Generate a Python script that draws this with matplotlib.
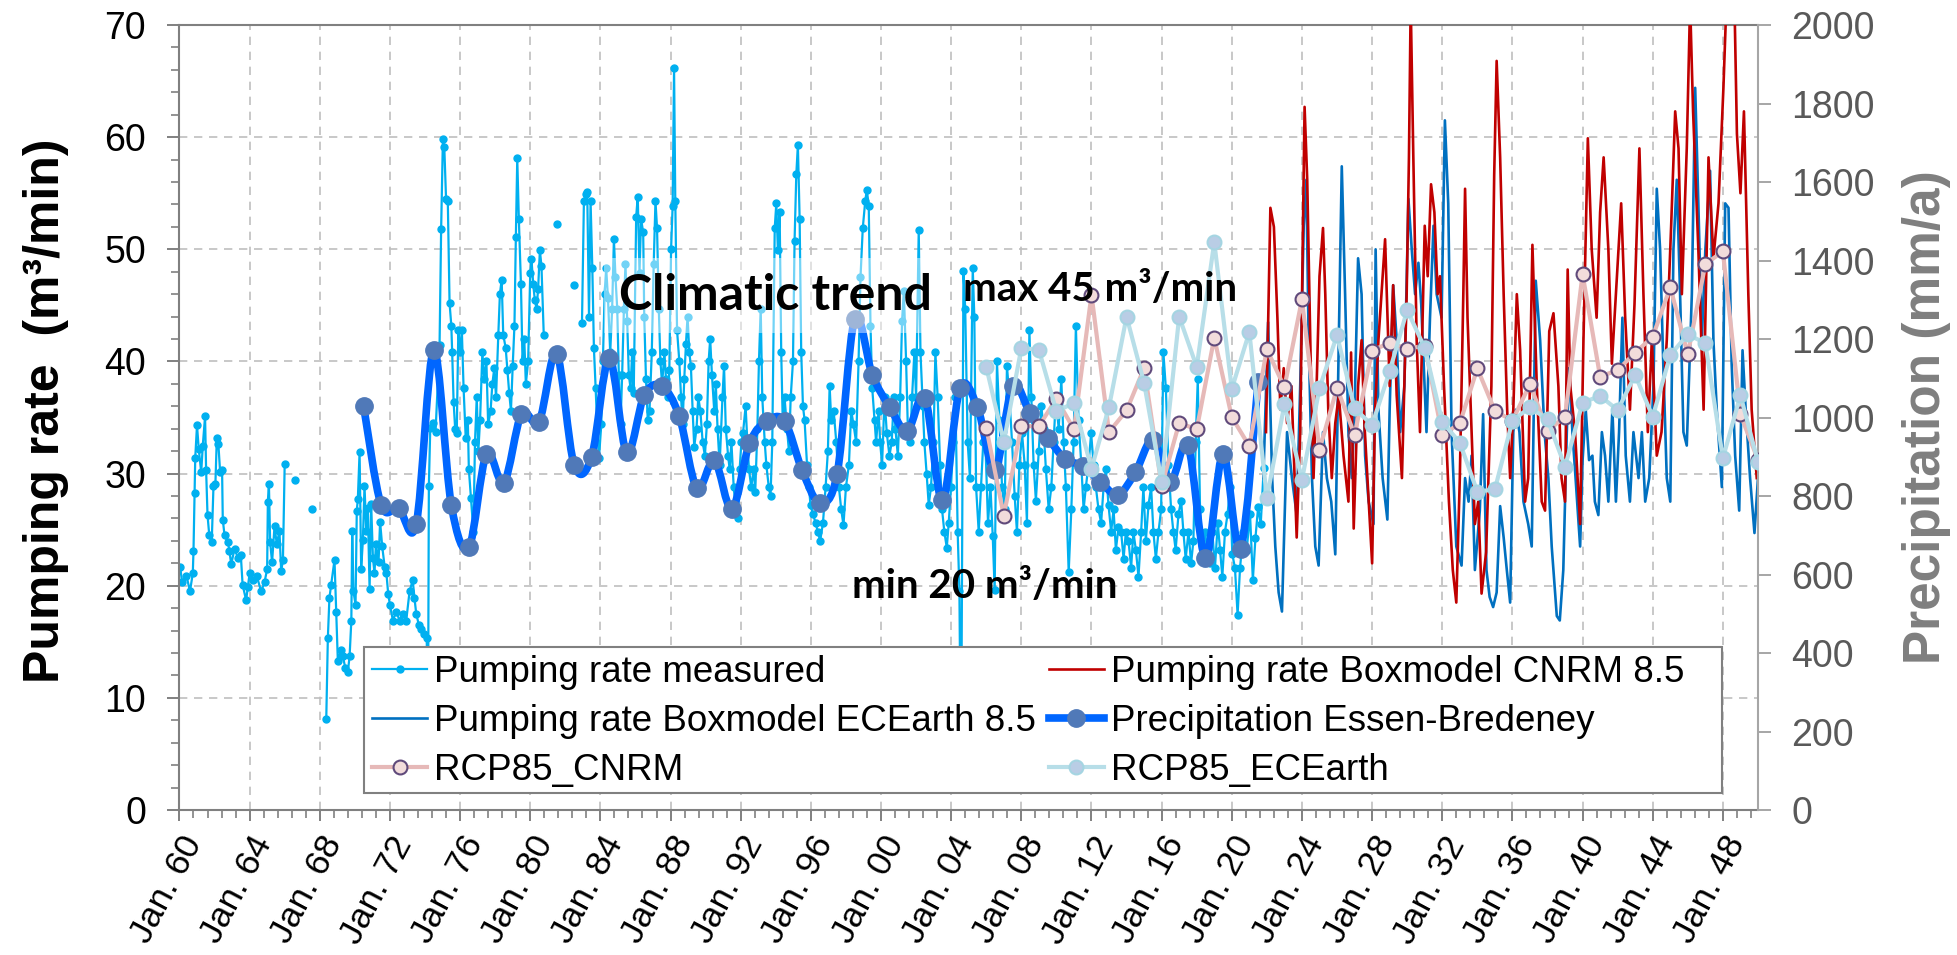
import numpy as np
import matplotlib
matplotlib.use("Agg")
import matplotlib.pyplot as plt
from matplotlib.path import Path
from matplotlib.patches import PathPatch, Rectangle
from matplotlib.lines import Line2D
from matplotlib.ticker import MultipleLocator, FixedLocator

plt.rcParams['font.family'] = ['Liberation Sans', 'DejaVu Sans']

nan = np.nan

# --- pumping rate measured (m3/min), decimal year ---
meas_year = [
    1960.04, 1960.15, 1960.4, 1960.6, 1960.76, 1960.8, 1960.86, 1960.9, 1961.0, 1961.1,
    1961.24, 1961.33, 1961.46, 1961.52, 1961.6, 1961.7, 1961.84, 1961.94, 1962.05, 1962.13,
    1962.22, 1962.32, 1962.43, 1962.47, 1962.57, 1962.76, 1962.85, 1962.95, 1963.14, 1963.33,
    1963.5, 1963.6, 1963.8, 1963.9, 1964.0, 1964.18, 1964.4, 1964.66, 1964.85, 1965.0,
    1965.04, 1965.1, 1965.17, 1965.28, 1965.42, 1965.55, 1965.7, 1965.8, 1965.9, 1966.0,
    1966.3, 1966.56, 1967.0, 1967.57, 1968.0,
    1968.37, 1968.46, 1968.55, 1968.65, 1968.84, 1968.94, 1969.03, 1969.22, 1969.32, 1969.45,
    1969.6, 1969.7, 1969.8, 1969.85, 1969.92, 1970.04, 1970.11, 1970.17, 1970.27, 1970.36,
    1970.46, 1970.55, 1970.65, 1970.74, 1970.84, 1970.93, 1971.03, 1971.12, 1971.2, 1971.35,
    1971.44, 1971.56, 1971.7, 1971.8, 1971.9, 1972.0, 1972.17, 1972.36, 1972.55, 1972.74,
    1972.93, 1973.12, 1973.3, 1973.4, 1973.5, 1973.65, 1973.78, 1973.97, 1974.1, 1974.16,
    1974.22, 1974.3, 1974.45, 1974.6, 1974.83, 1974.92, 1975.02, 1975.1, 1975.2, 1975.3,
    1975.4, 1975.5, 1975.55, 1975.63, 1975.72, 1975.81, 1975.9, 1976.0, 1976.1, 1976.2,
    1976.32, 1976.44, 1976.5, 1976.62, 1976.76, 1976.85, 1976.95, 1977.04, 1977.14, 1977.27,
    1977.38, 1977.5, 1977.6, 1977.74, 1977.84, 1977.95, 1978.05, 1978.18, 1978.27, 1978.37,
    1978.46, 1978.6, 1978.7, 1978.8, 1978.9, 1979.0, 1979.1, 1979.18, 1979.26, 1979.35,
    1979.47, 1979.56, 1979.66, 1979.75, 1979.88, 1980.0, 1980.07, 1980.17, 1980.26, 1980.36,
    1980.45, 1980.55, 1980.64, 1980.77,
    1981.1, 1981.51, 1982.0, 1982.5, 1982.8,
    1982.95, 1983.06, 1983.16, 1983.25, 1983.35, 1983.44, 1983.54, 1983.63, 1983.73, 1983.82,
    1983.92, 1984.05, 1984.14, 1984.24, 1984.33, 1984.43, 1984.56, 1984.67, 1984.77, 1984.86,
    1984.96, 1985.05, 1985.15, 1985.24, 1985.34, 1985.43, 1985.53, 1985.62, 1985.72, 1985.81,
    1985.9, 1986.04, 1986.13, 1986.23, 1986.32, 1986.44, 1986.5, 1986.6, 1986.7, 1986.8,
    1986.93, 1987.04, 1987.14, 1987.23, 1987.33, 1987.42, 1987.52, 1987.65, 1987.74, 1987.84,
    1987.93, 1988.03, 1988.12, 1988.2, 1988.27, 1988.37, 1988.5, 1988.6, 1988.69, 1988.78,
    1988.88, 1988.97, 1989.07, 1989.16, 1989.26, 1989.35, 1989.48, 1989.58, 1989.7, 1989.83,
    1989.96, 1990.07, 1990.17, 1990.26, 1990.36, 1990.49, 1990.58, 1990.68, 1990.8, 1990.96,
    1991.05, 1991.15, 1991.28, 1991.37, 1991.47, 1991.6, 1991.72, 1991.85, 1991.94, 1992.04,
    1992.13, 1992.28, 1992.38, 1992.47, 1992.6, 1992.74, 1992.83, 1992.95, 1993.04, 1993.14,
    1993.23, 1993.37, 1993.46, 1993.6, 1993.7, 1993.8, 1993.94, 1994.03, 1994.12, 1994.22,
    1994.31, 1994.4, 1994.5, 1994.64, 1994.75, 1994.85, 1994.98, 1995.07, 1995.17, 1995.26,
    1995.36, 1995.45, 1995.55, 1995.64, 1995.78, 1995.89, 1995.98, 1996.12, 1996.27, 1996.4,
    1996.53, 1996.69, 1996.84, 1996.97, 1997.07, 1997.16, 1997.3, 1997.45, 1997.6, 1997.73,
    1997.86, 1998.0, 1998.17, 1998.3, 1998.43, 1998.58, 1998.72, 1998.83, 1998.96, 1999.1,
    1999.19, 1999.3, 1999.4, 1999.5, 1999.63, 1999.72, 1999.86, 1999.95, 2000.06, 2000.2,
    2000.33, 2000.48, 2000.61, 2000.73, 2000.82, 2000.96, 2001.09, 2001.2, 2001.3, 2001.43,
    2001.53, 2001.66, 2001.77, 2001.9, 2002.0, 2002.15, 2002.25, 2002.38, 2002.47, 2002.6,
    2002.72, 2002.85, 2002.99, 2003.1, 2003.23, 2003.37, 2003.48, 2003.61, 2003.75, 2003.86,
    2003.99, 2004.12, 2004.24, 2004.37, 2004.47, 2004.56, 2004.7, 2004.8, 2004.94, 2005.07,
    2005.23, 2005.32, 2005.42, 2005.57, 2005.7, 2005.83, 2005.95, 2006.1, 2006.24, 2006.37,
    2006.48, 2006.61, 2006.75, 2006.9, 2007.05, 2007.18, 2007.32, 2007.47, 2007.62, 2007.75,
    2007.89, 2008.04, 2008.19, 2008.32, 2008.46, 2008.57, 2008.7, 2008.83, 2008.99, 2009.14,
    2009.27, 2009.4, 2009.56, 2009.71, 2009.84, 2009.97, 2010.13, 2010.28, 2010.41, 2010.54,
    2010.7, 2010.85, 2010.98, 2011.11, 2011.26, 2011.42, 2011.55, 2011.68, 2011.83, 2011.98,
    2012.12, 2012.25, 2012.4, 2012.55, 2012.69, 2012.82, 2012.97, 2013.12, 2013.26, 2013.39,
    2013.54, 2013.69, 2013.83, 2013.96, 2014.11, 2014.26, 2014.39, 2014.53, 2014.68, 2014.83,
    2014.96, 2015.1, 2015.25, 2015.4, 2015.53, 2015.67, 2015.82, 2015.97, 2016.1, 2016.24,
    2016.39, 2016.54, 2016.67, 2016.8, 2016.96, 2017.11, 2017.24, 2017.37, 2017.53, 2017.68,
    2017.81, 2017.94, 2018.06, 2018.19, 2018.32, 2018.47, 2018.63, 2018.76, 2018.89, 2019.04,
    2019.2, 2019.33, 2019.46, 2019.61, 2019.76, 2019.9, 2020.03, 2020.18, 2020.33, 2020.47,
    2020.66, 2020.85, 2021.04, 2021.2, 2021.35, 2021.5, 2021.65, 2021.82,
]
meas_rate = [
    21.7, 20.3, 20.9, 19.5, 21.1, 23.1, 28.3, 31.4, 34.3, 32.2,
    30.1, 32.5, 35.1, 30.3, 26.3, 24.5, 23.9, 28.9, 29.1, 33.2,
    32.6, 30.1, 30.3, 25.9, 24.5, 23.9, 23.1, 21.9, 23.3, 22.5,
    22.7, 20.1, 18.7, 19.9, 21.1, 20.5, 20.9, 19.5, 20.3, 21.5,
    27.5, 29.1, 23.9, 22.1, 25.3, 23.7, 24.9, 21.3, 22.3, 30.9,
    nan, 29.4, nan, 26.8, nan,
    8.1, 15.3, 18.9, 20.1, 22.3, 17.7, 13.3, 14.3, 13.7, 12.7,
    12.3, 13.7, 16.9, 24.9, 19.5, 18.3, 26.7, 27.7, 31.9, 21.5,
    24.1, 28.9, 24.9, 26.9, 19.7, 27.3, 22.5, 21.1, 23.7, 22.1,
    25.7, 23.5, 21.7, 21.1, 19.3, 18.3, 16.9, 17.7, 16.9, 17.5,
    16.9, 19.5, 20.5, 18.9, 17.5, 16.5, 16.1, 15.7, 15.3, 2.0,
    28.9, 34.1, 34.5, 33.7, 41.5, 51.8, 59.8, 59.1, 54.5, 54.3,
    45.2, 43.2, 40.8, 36.4, 34.0, 33.6, 42.8, 40.8, 42.8, 37.6,
    33.2, 34.8, 30.4, 27.8, 24.8, 32.8, 36.8, 32.0, 34.8, 40.8,
    38.4, 40.0, 34.4, 35.6, 38.0, 39.4, 36.8, 42.4, 46.0, 47.3,
    42.4, 41.2, 39.2, 37.2, 35.6, 39.6, 43.2, 51.1, 58.1, 52.7,
    46.9, 40.0, 42.0, 38.0, 40.0, 47.9, 49.1, 46.9, 45.5, 44.7,
    46.5, 49.9, 48.5, 42.4,
    nan, 52.3, nan, 46.8, nan,
    43.4, 54.3, 54.9, 55.1, 44.0, 54.3, 48.3, 41.2, 37.6, 34.0,
    31.4, 34.4, 40.0, 46.0, 48.3, 45.7, 40.8, 44.7, 50.9, 47.5,
    44.7, 38.8, 34.4, 38.8, 44.7, 48.7, 43.6, 38.8, 37.6, 40.8,
    37.2, 52.9, 54.7, 47.9, 52.7, 51.5, 44.0, 38.4, 34.8, 35.6,
    40.8, 48.7, 54.3, 51.9, 44.7, 40.0, 38.0, 40.8, 38.4, 36.8,
    39.2, 50.0, 53.9, 66.2, 54.3, 42.8, 40.0, 36.8, 34.4, 38.4,
    41.6, 44.0, 40.8, 39.6, 35.6, 32.4, 34.0, 36.8, 35.6, 32.8,
    31.6, 34.4, 40.0, 42.0, 38.8, 35.6, 38.0, 34.0, 30.8, 36.8,
    39.6, 34.0, 31.6, 30.4, 32.8, 28.8, 26.8, 26.0, 30.4, 32.8,
    33.6, 36.0, 32.8, 30.4, 28.8, 30.4, 28.4, 34.0, 40.0, 44.7,
    36.8, 32.8, 30.8, 28.8, 28.0, 32.8, 51.9, 54.1, 49.9, 53.3,
    40.8, 34.4, 36.8, 34.0, 32.0, 36.8, 40.0, 50.7, 56.7, 59.3,
    52.7, 40.8, 36.0, 34.8, 30.8, 28.8, 27.2, 26.4, 25.6, 24.8,
    24.0, 25.6, 28.8, 32.0, 37.8, 34.8, 35.6, 32.8, 28.8, 26.8,
    25.4, 28.8, 30.8, 35.6, 34.4, 32.8, 40.0, 47.5, 51.9, 54.3,
    55.3, 53.9, 43.2, 37.6, 34.8, 32.8, 35.6, 32.8, 30.8, 36.8,
    33.6, 31.6, 32.8, 36.8, 34.0, 31.6, 36.8, 43.6, 46.3, 40.0,
    34.0, 32.8, 36.8, 40.8, 36.8, 51.7, 40.8, 36.0, 32.8, 30.0,
    27.2, 28.8, 32.8, 40.8, 36.8, 30.8, 26.8, 24.8, 23.4, 25.6,
    28.8, 32.8, 36.8, 24.8, 19.5, 2.0, 48.1, 44.7, 32.8, 29.6,
    48.3, 44.0, 28.8, 24.8, 28.8, 32.8, 32.8, 25.6, 28.8, 24.4,
    19.6, 40.0, 34.8, 28.8, 26.8, 39.6, 36.8, 32.8, 28.0, 24.8,
    30.8, 33.6, 30.8, 25.6, 42.8, 36.8, 30.8, 27.6, 32.0, 36.0,
    34.0, 30.4, 26.8, 28.8, 32.8, 36.8, 34.0, 38.4, 32.8, 28.8,
    21.2, 26.8, 32.8, 43.2, 34.8, 30.8, 26.8, 28.8, 30.8, 33.6,
    30.8, 28.8, 26.8, 25.6, 28.8, 30.4, 27.2, 24.8, 26.8, 23.2,
    25.2, 24.8, 22.4, 24.8, 24.0, 21.6, 24.8, 23.2, 20.8, 24.8,
    28.8, 24.0, 27.2, 28.8, 24.8, 22.4, 24.8, 26.8, 40.8, 37.6,
    30.8, 26.8, 24.8, 23.2, 26.4, 27.6, 24.8, 22.4, 24.8, 22.0,
    24.0, 32.8, 38.4, 26.8, 23.6, 24.8, 22.8, 22.0, 24.8, 21.6,
    25.6, 23.2, 20.8, 24.8, 26.4, 28.8, 22.8, 21.6, 17.4, 21.6,
    24.8, 23.2, 26.4, 20.5, 24.3, 27.0, 25.5, 30.5,
]

# --- pumping rate boxmodel CNRM 8.5 (m3/min) ---
cnrm_year = [
    2021.95, 2022.2, 2022.4, 2022.6, 2022.77, 2022.96, 2023.15, 2023.4, 2023.7, 2023.9,
    2024.15, 2024.3, 2024.5, 2024.66, 2024.85, 2025.0, 2025.2, 2025.33, 2025.5, 2025.7,
    2025.9, 2026.1, 2026.37, 2026.65, 2026.8, 2026.95, 2027.2, 2027.4, 2027.56, 2028.0,
    2028.17, 2028.36, 2028.74, 2029.0, 2029.2, 2029.4, 2029.7, 2029.97, 2030.1, 2030.2,
    2030.35, 2030.54, 2030.73, 2031.0, 2031.17, 2031.36, 2031.55, 2031.74, 2031.87, 2032.1,
    2032.38, 2032.6, 2032.8, 2033.0, 2033.2, 2033.3, 2033.44, 2033.67, 2033.86, 2034.05,
    2034.24, 2034.5, 2034.8, 2034.96, 2035.1, 2035.3, 2035.5, 2035.7, 2035.87, 2036.05,
    2036.25, 2036.44, 2036.72, 2036.9, 2037.14, 2037.39, 2037.67, 2037.86, 2038.1, 2038.34,
    2038.62, 2038.8, 2039.0, 2039.15, 2039.3, 2039.57, 2039.86, 2040.05, 2040.3, 2040.52,
    2040.8, 2041.0, 2041.2, 2041.47, 2041.67, 2041.9, 2042.2, 2042.43, 2042.7, 2042.96,
    2043.24, 2043.47, 2043.72, 2043.95, 2044.23, 2044.5, 2044.8, 2045.05, 2045.28, 2045.47,
    2045.66, 2045.94, 2046.13, 2046.3, 2046.6, 2046.9, 2047.18, 2047.46, 2047.75, 2048.03,
    2048.2, 2048.66, 2048.8, 2049.0, 2049.2, 2049.45, 2049.64, 2049.93,
]
cnrm_rate = [
    33.7, 53.7, 52.0, 43.9, 35.7, 39.4, 34.5, 37.8, 24.3, 33.7,
    62.7, 56.2, 39.8, 29.6, 38.6, 47.6, 51.9, 46.0, 35.7, 29.6,
    34.5, 37.0, 31.6, 27.5, 40.8, 25.1, 37.8, 41.9, 34.5, 22.0,
    35.7, 41.9, 50.9, 37.8, 46.8, 37.0, 29.6, 46.0, 58.2, 72.0,
    58.2, 41.9, 33.7, 52.1, 47.6, 55.8, 53.3, 46.0, 47.6, 37.8,
    27.5, 21.4, 18.5, 29.6, 46.0, 55.4, 43.9, 33.7, 25.5, 27.5,
    19.3, 23.0, 37.8, 56.6, 66.8, 58.2, 46.0, 35.7, 29.6, 35.7,
    46.0, 41.0, 27.5, 29.6, 50.4, 37.8, 27.5, 26.7, 42.7, 44.3,
    37.8, 29.6, 27.5, 48.2, 37.8, 33.7, 25.5, 41.9, 59.9, 50.0,
    43.9, 53.3, 58.2, 50.0, 39.8, 46.0, 54.1, 43.9, 35.7, 45.1,
    59.0, 46.0, 33.7, 41.9, 31.6, 33.7, 41.9, 52.1, 62.3, 59.0,
    46.0, 59.0, 72.0, 62.3, 50.0, 35.7, 58.2, 49.2, 54.1, 64.4,
    72.0, 72.0, 60.3, 55.0, 62.3, 46.0, 35.7, 29.6,
]

# --- pumping rate boxmodel ECEarth 8.5 (m3/min) ---
ecearth_year = [
    2021.8, 2022.07, 2022.3, 2022.48, 2022.67, 2022.86, 2023.0, 2023.15, 2023.43, 2023.7,
    2023.9, 2024.1, 2024.25, 2024.38, 2024.57, 2024.76, 2024.95, 2025.2, 2025.42, 2025.67,
    2025.9, 2026.1, 2026.27, 2026.46, 2026.65, 2026.84, 2027.0, 2027.2, 2027.4, 2027.6,
    2027.8, 2028.08, 2028.2, 2028.36, 2028.6, 2028.87, 2029.0, 2029.2, 2029.4, 2029.6,
    2029.84, 2030.07, 2030.26, 2030.45, 2030.64, 2030.8, 2031.1, 2031.3, 2031.5, 2031.68,
    2031.96, 2032.15, 2032.34, 2032.53, 2032.8, 2033.1, 2033.3, 2033.5, 2033.67, 2033.86,
    2034.14, 2034.33, 2034.52, 2034.7, 2034.9, 2035.1, 2035.3, 2035.5, 2035.68, 2035.87,
    2036.05, 2036.2, 2036.4, 2036.63, 2036.9, 2037.1, 2037.33, 2037.58, 2037.83, 2038.05,
    2038.24, 2038.53, 2038.7, 2038.9, 2039.1, 2039.23, 2039.42, 2039.6, 2039.86, 2040.0,
    2040.18, 2040.37, 2040.56, 2040.7, 2040.9, 2041.1, 2041.28, 2041.47, 2041.7, 2041.9,
    2042.08, 2042.27, 2042.46, 2042.7, 2042.9, 2043.19, 2043.38, 2043.57, 2043.8, 2044.04,
    2044.23, 2044.42, 2044.6, 2044.8, 2045.0, 2045.18, 2045.37, 2045.56, 2045.75, 2045.94,
    2046.23, 2046.42, 2046.6, 2046.8, 2047.0, 2047.27, 2047.46, 2047.65, 2047.94, 2048.13,
    2048.32, 2048.5, 2048.7, 2048.93, 2049.12, 2049.3, 2049.55, 2049.8, 2050.0,
]
ecearth_rate = [
    29.6, 43.5, 29.6, 23.5, 19.4, 17.7, 25.5, 33.7, 29.6, 26.3,
    37.8, 52.1, 56.2, 41.9, 29.6, 23.5, 21.8, 33.7, 29.6, 27.5,
    22.8, 41.9, 57.4, 46.0, 33.7, 29.6, 35.7, 49.2, 46.0, 31.6,
    27.5, 25.5, 50.0, 35.7, 29.6, 25.9, 35.7, 46.8, 41.9, 33.7,
    37.8, 54.5, 50.0, 46.0, 48.8, 45.1, 33.7, 43.9, 52.1, 46.0,
    43.9, 61.5, 54.1, 33.7, 23.5, 21.8, 29.6, 27.5, 31.6, 21.4,
    26.7, 35.3, 21.4, 19.0, 18.1, 19.4, 27.1, 24.3, 21.4, 18.5,
    33.7, 35.7, 33.7, 27.5, 25.5, 23.5, 47.2, 41.9, 33.7, 29.6,
    23.5, 17.3, 16.9, 21.4, 33.7, 39.4, 33.7, 29.6, 23.5, 31.2,
    35.7, 31.2, 31.6, 27.5, 26.3, 33.7, 31.6, 27.5, 35.7, 27.5,
    33.7, 43.9, 31.6, 27.5, 33.7, 29.6, 33.7, 27.5, 29.6, 37.8,
    55.4, 50.0, 39.8, 29.6, 27.5, 50.0, 56.2, 46.0, 33.7, 32.5,
    46.0, 64.4, 54.1, 41.9, 50.0, 57.0, 41.9, 35.7, 28.8, 54.1,
    53.7, 39.8, 31.6, 26.7, 41.0, 35.7, 29.6, 24.7, 29.6,
]

# --- precipitation Essen-Bredeney (mm/a), one value per year ---
precip_years = list(range(1970, 2022))
precip_mm = [
    1029, 777, 769, 729, 1171, 777, 669, 906, 834, 1009,
    989, 1163, 880, 900, 1151, 911, 1057, 1080, 1003, 820,
    891, 766, 934, 991, 991, 866, 783, 857, 1251, 1109,
    1026, 966, 1051, 789, 1074, 1026, 866, 1080, 1011, 949,
    894, 877, 837, 803, 860, 943, 837, 929, 643, 906,
    666, 1091,
]

# --- RCP 8.5 precipitation scenarios (mm/a) ---
rcp_years = list(range(2006, 2051))
rcp_cnrm = [
    974, 750, 978, 978, 1048, 970, 1313, 963, 1018, 1126,
    825, 986, 970, 1203, 1001, 927, 1174, 1077, 1301, 918,
    1075, 956, 1170, 1191, 1175, 1183, 955, 985, 1125, 1017,
    992, 1085, 966, 1002, 1365, 1104, 1121, 1165, 1206, 1332,
    1161, 1391, 1423, 1008, 892,
]
rcp_ecearth = [
    1129, 938, 1177, 1173, 1016, 1037, 870, 1027, 1257, 1088,
    836, 1257, 1129, 1447, 1073, 1218, 794, 1034, 841, 1075,
    1210, 1023, 981, 1118, 1274, 1177, 989, 936, 811, 817,
    992, 1026, 995, 875, 1038, 1055, 1019, 1108, 1002, 1159,
    1212, 1189, 896, 1057, 887,
]

major_years = list(range(1960, 2049, 4))
major_labels = ["Jan. %02d" % (y % 100) for y in major_years]


def smooth_path(x, y):
    # Bezier path through the points, like Excel's "smoothed line"
    verts = [(x[0], y[0])]
    codes = [Path.MOVETO]
    n = len(x)
    for i in range(n - 1):
        xa, ya = (x[i - 1], y[i - 1]) if i > 0 else (x[i], y[i])
        xd, yd = (x[i + 2], y[i + 2]) if i + 2 < n else (x[i + 1], y[i + 1])
        c1 = (x[i] + (x[i + 1] - xa) / 6.0, y[i] + (y[i + 1] - ya) / 6.0)
        c2 = (x[i + 1] - (xd - x[i]) / 6.0, y[i + 1] - (yd - y[i]) / 6.0)
        verts += [c1, c2, (x[i + 1], y[i + 1])]
        codes += [Path.CURVE4] * 3
    return Path(verts, codes)


fig = plt.figure(figsize=(19.57, 9.55), dpi=100)
ax = fig.add_axes([0.0917, 0.1518, 0.8066, 0.8220])
ax2 = ax.twinx()

c_meas = '#00B0F0'
c_ece = '#0070C0'
c_cnrm = '#C00000'
c_prec = '#0066FF'
c_prec_mk = '#5079B8'

l_meas, = ax.plot(meas_year, meas_rate, color=c_meas, lw=1.6, marker='o', ms=5,
                  mec=c_meas, zorder=2, label='Pumping rate measured')
l_ece, = ax.plot(ecearth_year, ecearth_rate, color=c_ece, lw=1.9, zorder=3,
                 label='Pumping rate Boxmodel ECEarth 8.5')
l_cnrm, = ax.plot(cnrm_year, cnrm_rate, color=c_cnrm, lw=1.9, zorder=3,
                  label='Pumping rate Boxmodel CNRM 8.5')

px = [y + 0.5 for y in precip_years]
ax2.add_patch(PathPatch(smooth_path(px, precip_mm), fill=False, edgecolor=c_prec,
                        lw=5.5, capstyle='round', joinstyle='round', zorder=2))
ax2.plot(px, precip_mm, linestyle='none', marker='o', ms=12.5, mfc=c_prec_mk,
         mec=c_prec_mk, zorder=3)
l_prec = Line2D([], [], color=c_prec, lw=5.5, marker='o', ms=12.5, mfc=c_prec_mk,
                mec=c_prec_mk, label='Precipitation Essen-Bredeney')

l_rc, = ax2.plot(rcp_years, rcp_cnrm, color='#E6B9B8', lw=3, marker='o', ms=10,
                 mfc='#F2DCDB', mec='#604A7B', mew=1.5, zorder=4, label='RCP85_CNRM')
l_re, = ax2.plot(rcp_years, rcp_ecearth, color='#B7DEE8', lw=3, marker='o', ms=10,
                 mfc='#B9CDE5', mec='#A5D5E2', mew=1.5, zorder=5, label='RCP85_ECEarth')

# axes
ax.set_xlim(1960, 2050)
ax.set_ylim(0, 70)
ax2.set_ylim(0, 2000)
ax.xaxis.set_major_locator(FixedLocator(major_years))
ax.set_xticklabels(major_labels)
ax.xaxis.set_minor_locator(FixedLocator(np.arange(1960, 2050.01, 0.8)))
ax.yaxis.set_major_locator(MultipleLocator(10))
ax.yaxis.set_minor_locator(MultipleLocator(2))
ax2.yaxis.set_major_locator(MultipleLocator(200))

ax.grid(True, which='major', color='#BFBFBF', linestyle=(0, (5, 4)), lw=1.2)
ax.set_axisbelow(True)

for s in ['left', 'bottom', 'top']:
    ax.spines[s].set_color('#808080')
    ax.spines[s].set_linewidth(1.5)
ax.spines['right'].set_visible(False)
for s in ['left', 'bottom', 'top']:
    ax2.spines[s].set_visible(False)
ax2.spines['right'].set_color('#A6A6A6')
ax2.spines['right'].set_linewidth(1.5)

ax.tick_params(axis='y', which='major', length=9, width=1.4, color='#808080',
               labelsize=27, pad=15)
ax.tick_params(axis='y', which='minor', length=6, width=1.2, color='#808080')
ax.tick_params(axis='x', which='major', length=8, width=1.4, color='#808080',
               labelsize=25.5, pad=7)
ax.tick_params(axis='x', which='minor', length=5.5, width=1.2, color='#808080')
ax2.tick_params(axis='y', length=9, width=1.4, color='#A6A6A6', labelcolor='#595959',
                labelsize=27, pad=15)

for lab in ax.get_xticklabels():
    lab.set_rotation(62)
    lab.set_ha('right')
    lab.set_va('top')
    lab.set_rotation_mode('anchor')

ax.set_ylabel('Pumping rate  (m³/min)', fontsize=36, fontweight='bold')
ax.yaxis.set_label_coords(-0.070, 0.508)
ax2.set_ylabel('Precipitation (mm/a)', fontsize=37, fontweight='bold', color='#7F7F7F',
               rotation=90)
ax2.yaxis.set_label_coords(1.091, 0.50)

# annotations
tr = ax.transData
ax2.text(1994.0, 45.9, 'Climatic trend', transform=tr, ha='center', va='center',
         fontsize=36, fontweight='bold', family=['Lato', 'DejaVu Sans'], zorder=10,
         bbox=dict(boxstyle='square,pad=0.3', facecolor='white', alpha=0.45,
                   edgecolor='none'))
ax2.text(2012.5, 46.4, 'max 45 m³/min', transform=tr, ha='center', va='center',
         fontsize=29, fontweight='bold', family=['Lato', 'DejaVu Sans'], zorder=10)
ax2.text(2005.9, 19.9, 'min 20 m³/min', transform=tr, ha='center', va='center',
         fontsize=29, fontweight='bold', family=['Lato', 'DejaVu Sans'], zorder=10)

# legend: white box with grey border, entries placed inside it
leg_x0, leg_y0, leg_w, leg_h = 0.1168, 0.0217, 0.8607, 0.186
ax2.add_patch(Rectangle((leg_x0, leg_y0), leg_w, leg_h, transform=ax2.transAxes,
                        facecolor='white', edgecolor='#808080', lw=1.5, zorder=19))
handles = [l_meas, l_ece, l_rc, l_cnrm, l_prec, l_re]
leg = ax2.legend(handles=handles, ncol=2, loc='upper left',
                 bbox_to_anchor=(leg_x0, leg_y0 + leg_h), frameon=False,
                 fontsize=26.5, handlelength=1.5, handletextpad=0.2, labelspacing=0.38,
                 borderpad=0.22, columnspacing=0.33, borderaxespad=0)
leg.set_zorder(20)

fig.savefig('out.png', dpi=100)
